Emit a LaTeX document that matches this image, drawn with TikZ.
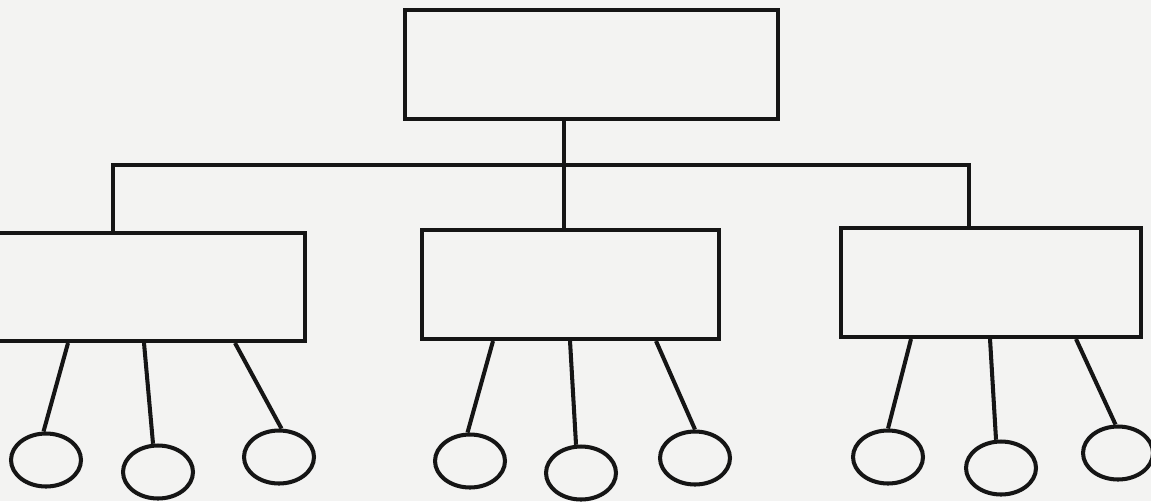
\documentclass[tikz,border=0pt]{standalone}
\usepackage{tikz}
\usepackage{xcolor}
\usetikzlibrary{shapes.geometric, calc}
\definecolor{papel}{HTML}{F3F3F2}
\definecolor{tinta}{HTML}{151515}

\begin{document}
\begin{tikzpicture}[
  x=0.02cm, y=-0.02cm,
  caja/.style={rectangle, draw=tinta, line width=2.3pt, minimum width=6cm, minimum height=2.18cm, inner sep=0pt},
  hoja/.style={ellipse, draw=tinta, line width=2.3pt, minimum width=1.4cm, minimum height=1.06cm, inner sep=0pt},
  linea/.style={draw=tinta, line width=2.3pt},
]

% --- Fondo ---
\fill[papel] (0,0) rectangle (1151,501);
\useasboundingbox (0,0) rectangle (1151,501);

% --- Cajas ---
\node[caja, minimum width=7.46cm] (raiz) at (591.5,64.5) {};
\node[caja, minimum width=6.3cm, minimum height=2.16cm] (izq) at (147.5,287) {};
\node[caja, minimum width=5.94cm] (centro) at (570.5,284.5) {};
\node[caja] (der) at (991,282.5) {};

% --- Ramas ---
\coordinate (bus)  at (564,165);
\coordinate (busi) at (113,165);
\coordinate (busd) at (969,165);
\draw[linea] (raiz.south -| bus) -- (bus) -- (bus |- centro.north);
\draw[linea] (busi |- izq.north) -- (busi) -- (busd) -- (busd |- der.north);

% --- Hojas ---
\node[hoja] (i1) at (46,460) {};
\node[hoja] (i2) at (158,472) {};
\node[hoja] (i3) at (279,457) {};
\node[hoja] (c1) at (470,461) {};
\node[hoja] (c2) at (581,473) {};
\node[hoja] (c3) at (695,458) {};
\node[hoja] (d1) at (888,457) {};
\node[hoja] (d2) at (1001,468) {};
\node[hoja] (d3) at (1118,453) {};

\draw[linea] ($(izq.south west)+(80,0)$)  -- (i1.95);
\draw[linea] ($(izq.south west)+(156,0)$) -- (i2.100);
\draw[linea] ($(izq.south west)+(247,0)$) -- (i3.85);
\draw[linea] ($(centro.south west)+(73,0)$)  -- (c1.95);
\draw[linea] ($(centro.south west)+(150,0)$) -- (c2.100);
\draw[linea] ($(centro.south west)+(236,0)$) -- (c3.90);
\draw[linea] ($(der.south west)+(72,0)$)  -- (d1.90);
\draw[linea] ($(der.south west)+(151,0)$) -- (d2.100);
\draw[linea] ($(der.south west)+(237,0)$) -- (d3.95);

\end{tikzpicture}
\end{document}
